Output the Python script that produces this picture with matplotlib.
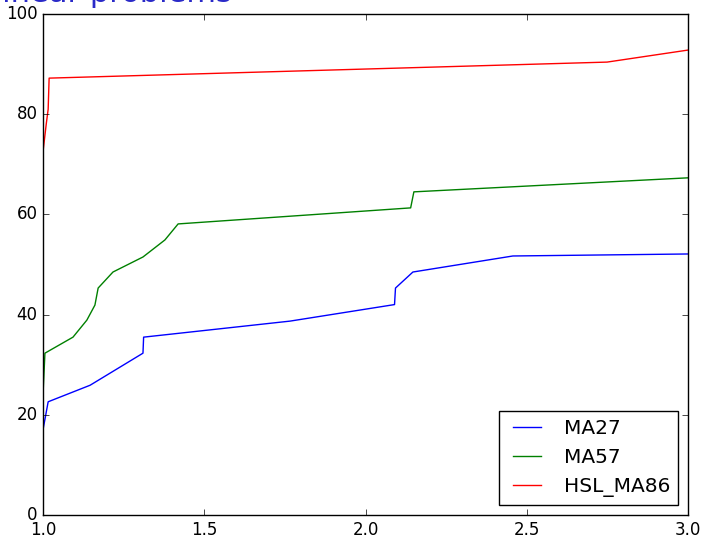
import numpy as np
import matplotlib
matplotlib.use('Agg')
import matplotlib.pyplot as plt

# performance profile data
ma27_x = [1.0, 1.016, 1.146, 1.31, 1.312, 1.766, 2.09, 2.093, 2.147, 2.457, 3.0]
ma27_y = [17.0, 22.6, 25.9, 32.3, 35.5, 38.7, 42.0, 45.3, 48.5, 51.7, 52.1]

ma57_x = [1.0, 1.006, 1.093, 1.136, 1.161, 1.171, 1.217, 1.31, 1.378, 1.419, 2.14, 2.15, 3.0]
ma57_y = [24.0, 32.3, 35.5, 38.9, 41.9, 45.3, 48.5, 51.5, 54.9, 58.1, 61.3, 64.5, 67.3]

hsl_x = [1.0, 1.01, 1.016, 1.019, 2.749, 3.0]
hsl_y = [72.5, 78.0, 81.0, 87.2, 90.4, 92.8]

labels = ['MA27', 'MA57', 'HSL_MA86']

plt.style.use('classic')
fig = plt.figure(figsize=(7.02, 5.36), dpi=100, facecolor='white')
ax = fig.add_axes([43/702, 1 - 515/536, (688-43)/702, (515-14)/536])

ax.plot(ma27_x, ma27_y, color='b', lw=1)
ax.plot(ma57_x, ma57_y, color='g', lw=1)
ax.plot(hsl_x, hsl_y, color='r', lw=1)

ax.set_xlim(1.0, 3.0)
ax.set_ylim(0, 100)
ax.set_xticks([1.0, 1.5, 2.0, 2.5, 3.0])
ax.set_yticks([0, 20, 40, 60, 80, 100])
ax.tick_params(labelsize=12)

ax.legend(labels, loc='lower right', fontsize=14.5)

# title is cut off at the top of the picture
fig.text(232/702, 1 - 2/536, 'Nonlinear problems', ha='right', va='baseline',
         fontsize=22, color='#2a2ac8')

fig.savefig('out.png', dpi=100, facecolor='white')
